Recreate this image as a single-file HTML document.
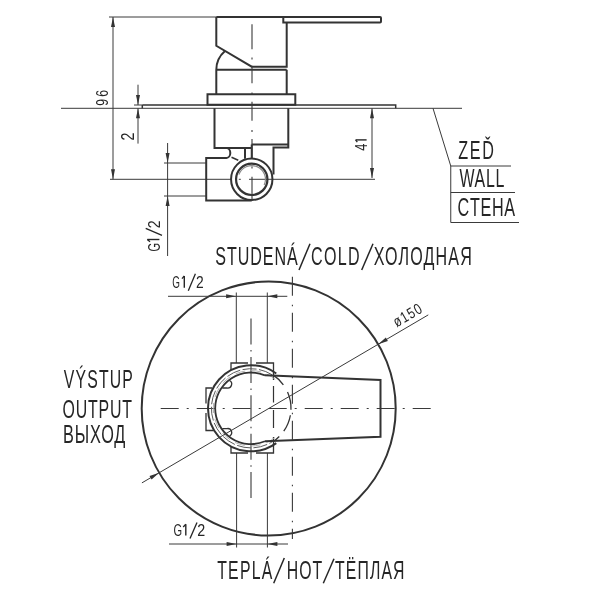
<!DOCTYPE html>
<html><head><meta charset="utf-8"><style>
html,body{margin:0;padding:0;background:#fff;width:600px;height:600px;overflow:hidden}
svg{display:block;will-change:transform}
text{font-family:"Liberation Sans",sans-serif}
</style></head><body>
<svg width="600" height="600" viewBox="0 0 600 600">
<rect width="600" height="600" fill="#fff"/>
<path d="M109 17 H216.3" fill="none" stroke="#3a3a3a" stroke-width="1.0" />
<path d="M113 17 V179.3" fill="none" stroke="#3a3a3a" stroke-width="1.0" />
<path d="M113.00 17.00 L115.00 27.00 L111.00 27.00 Z" fill="#333333"/>
<path d="M113.00 179.30 L111.00 169.30 L115.00 169.30 Z" fill="#333333"/>
<text id="t1" transform="translate(108.10,105.70) rotate(-90) scale(0.75,1)" font-size="16.23" fill="#262626" textLength="20.82" lengthAdjust="spacing">96</text>
<path d="M61 108.3 H462" fill="none" stroke="#3a3a3a" stroke-width="1.0" />
<path d="M142.3 105 H395.7 V108.3 M142.3 105 V108.3" fill="none" stroke="#333333" stroke-width="1.5" />
<path d="M433 108.3 L450.75 166 V222.5 M450.75 166 H511 M450.75 192.5 H515 M450.75 222.5 H519" fill="none" stroke="#3a3a3a" stroke-width="1.0" />
<path d="M138 84.7 V105 M138 108.3 V143.6 M134 105 H142.3" fill="none" stroke="#3a3a3a" stroke-width="1.0" />
<path d="M138.00 105.00 L136.00 95.00 L140.00 95.00 Z" fill="#333333"/>
<path d="M138.00 108.30 L140.00 118.30 L136.00 118.30 Z" fill="#333333"/>
<text id="t2" transform="translate(134.00,140.50) rotate(-90) scale(0.8111999999999999,1)" font-size="17.75" fill="#262626" textLength="10.8" lengthAdjust="spacing">2</text>
<path d="M167.6 143 V256 M164 163 H206 M164 196 H206 M110 179.3 H231 M238.8 179.3 H240.8 M249 179.3 H375" fill="none" stroke="#3a3a3a" stroke-width="1.0" />
<path d="M167.60 163.00 L165.60 153.00 L169.60 153.00 Z" fill="#333333"/>
<path d="M167.60 196.00 L169.60 206.00 L165.60 206.00 Z" fill="#333333"/>
<text id="t3" transform="translate(159.60,251.60) rotate(-90) scale(0.64,1)" font-size="17.39" fill="#262626" textLength="13.15" lengthAdjust="spacing">G</text>
<text id="t4" transform="translate(159.60,228.25) rotate(-90) scale(0.8053043478260897,1)" font-size="17.39" fill="#262626" textLength="10.74" lengthAdjust="spacing">2</text>
<path d="M150 241.8 L147.3 239.5" stroke="#262626" stroke-width="1.3" fill="none"/>
<path d="M147.3 239.5 L159.4 239.5" stroke="#262626" stroke-width="1.4" fill="none"/>
<path d="M145.7 228.3 L162 235.3" stroke="#262626" stroke-width="1.3" fill="none"/>
<path d="M372 108.3 V178" fill="none" stroke="#3a3a3a" stroke-width="1.0" />
<path d="M372.00 108.30 L374.00 118.30 L370.00 118.30 Z" fill="#333333"/>
<path d="M372.00 178.00 L370.00 168.00 L374.00 168.00 Z" fill="#333333"/>
<text id="t5" transform="translate(366.50,150.75) rotate(-90) scale(0.8125,1)" font-size="15.65" fill="#262626" textLength="10.23" lengthAdjust="spacing">4</text>
<path d="M357.3 142.2 L355.6 139.9" stroke="#262626" stroke-width="1.3" fill="none"/>
<path d="M355.6 139.9 L366.6 139.9" stroke="#262626" stroke-width="1.4" fill="none"/>
<path d="M216.3 17 H283.3 M216.3 17 V45.8 L251.7 66.7 H286.7 V22.5 M283.3 17 H380 Q381 17 381 18 V21.5 Q381 22.5 380 22.5 H283.3 Z M216.3 69.7 H286.7 M216.3 69.7 A24.9 24.9 0 0 1 225 50.9 M216.3 69.7 V94.2 M286.7 69.7 V94.2" fill="none" stroke="#333333" stroke-width="2.0" />
<path d="M207.5 94.2 H295.3 V104.7 H207.5 Z" fill="none" stroke="#333333" stroke-width="2.0" />
<path d="M214.5 108.3 V148.1 H226.5 A3.8 4.9 0 0 1 226.5 157.9 H206.2 V200.5 H251.75 M288.3 108.3 V147.5 H273.5 V174.5 M251.75 144.5 H288.3 M226.5 148.1 H251.75 M245 148.1 V158.75 M251.75 144.5 V158.75" fill="none" stroke="#333333" stroke-width="2.0" />
<path d="M231.5 157.25 L238.25 160.25" fill="none" stroke="#333333" stroke-width="1.5" />
<circle cx="251.75" cy="179.3" r="20.7" fill="none" stroke="#333333" stroke-width="2"/>
<circle cx="251.75" cy="179.3" r="15.7" fill="none" stroke="#333333" stroke-width="2.2"/>
<path d="M238.88 174.61 A13.7 13.7 0 1 1 264.17 185.09" fill="none" stroke="#8a8a8a" stroke-width="1.2"/>
<path d="M252 24.2 V49.2 M252 57.5 V59.5 M252 65.8 V83.3 M252 92.5 V94.5 M252 101.7 V120.8 M252 130 V132 M252 139 V158.3 M252 166.5 V168.5 M252 176.7 V201" fill="none" stroke="#3a3a3a" stroke-width="1.1" />
<text id="t6" transform="translate(458.25,159.30) scale(0.61,1)" font-size="26.52" fill="#262626" textLength="58.55" lengthAdjust="spacing">ZEĎ</text>
<text id="t7" transform="translate(459.40,187.10) scale(0.61,1)" font-size="26.09" fill="#262626" textLength="73.67" lengthAdjust="spacing">WALL</text>
<text id="t8" transform="translate(457.55,216.20) scale(0.61,1)" font-size="26.52" fill="#262626" textLength="94.29" lengthAdjust="spacing">CTEHA</text>
<text id="t9" transform="translate(215.25,264.70) scale(0.61,1)" font-size="26.38" fill="#262626" textLength="135.26" lengthAdjust="spacing">STUDENÁ</text>
<text id="t10" transform="translate(310.95,264.70) scale(0.61,1)" font-size="26.38" fill="#262626" textLength="79.85" lengthAdjust="spacing">COLD</text>
<text id="t11" transform="translate(373.80,264.70) scale(0.61,1)" font-size="26.38" fill="#262626" textLength="160.67" lengthAdjust="spacing">ХОЛОДНАЯ</text>
<path d="M299 270 L310 243.7" stroke="#262626" stroke-width="1.5" fill="none"/>
<path d="M361.7 270 L373 243.7" stroke="#262626" stroke-width="1.5" fill="none"/>
<text id="t12" transform="translate(217.25,578.50) scale(0.61,1)" font-size="25.94" fill="#262626" textLength="90.14" lengthAdjust="spacing">TEPLÁ</text>
<text id="t13" transform="translate(286.65,578.50) scale(0.61,1)" font-size="25.94" fill="#262626" textLength="58.33" lengthAdjust="spacing">HOT</text>
<text id="t14" transform="translate(335.05,578.50) scale(0.61,1)" font-size="25.94" fill="#262626" textLength="113.91" lengthAdjust="spacing">ТЁПЛАЯ</text>
<path d="M273.7 583.3 L284.3 558" stroke="#262626" stroke-width="1.5" fill="none"/>
<path d="M323.3 583.3 L334 558.7" stroke="#262626" stroke-width="1.5" fill="none"/>
<text id="t15" transform="translate(63.70,387.50) scale(0.61,1)" font-size="25.94" fill="#262626" textLength="113.41" lengthAdjust="spacing">VÝSTUP</text>
<text id="t16" transform="translate(62.55,417.90) scale(0.61,1)" font-size="26.09" fill="#262626" textLength="113.92" lengthAdjust="spacing">OUTPUT</text>
<text id="t17" transform="translate(63.05,442.80) scale(0.61,1)" font-size="26.67" fill="#262626" textLength="102.17" lengthAdjust="spacing">ВЫХОД</text>
<circle cx="268.7" cy="408.5" r="127" fill="none" stroke="#333333" stroke-width="2"/>
<path d="M168 296.3 H287.3 M236.3 292.5 V363 M267.3 292.5 V363" fill="none" stroke="#3a3a3a" stroke-width="1.0" />
<path d="M236.10 296.30 L226.10 298.30 L226.10 294.30 Z" fill="#333333"/>
<path d="M267.30 296.30 L277.30 294.30 L277.30 298.30 Z" fill="#333333"/>
<text id="t18" transform="translate(172.20,287.60) scale(0.5826206896551723,1)" font-size="16.96" fill="#262626" textLength="12.01" lengthAdjust="spacing">G</text>
<text id="t19" transform="translate(195.95,287.50) scale(0.8153939393939438,1)" font-size="16.96" fill="#262626" textLength="10.55" lengthAdjust="spacing">2</text>
<path d="M182 278.7 L184.3 276" stroke="#262626" stroke-width="1.3" fill="none"/>
<path d="M184.3 276 L184.3 287.7" stroke="#262626" stroke-width="1.4" fill="none"/>
<path d="M188.3 290.8 L195.4 273.75" stroke="#262626" stroke-width="1.3" fill="none"/>
<path d="M169 544 H288 M236.6 453 V547.5 M267.4 453 V547.5" fill="none" stroke="#3a3a3a" stroke-width="1.0" />
<path d="M236.60 544.00 L226.60 546.00 L226.60 542.00 Z" fill="#333333"/>
<path d="M267.40 544.00 L277.40 542.00 L277.40 546.00 Z" fill="#333333"/>
<text id="t20" transform="translate(173.45,535.60) scale(0.6826666666666666,1)" font-size="16.23" fill="#262626" textLength="12.87" lengthAdjust="spacing">G</text>
<text id="t21" transform="translate(197.35,535.50) scale(0.8799999999999991,1)" font-size="16.23" fill="#262626" textLength="11.05" lengthAdjust="spacing">2</text>
<path d="M183.2 527 L185.8 524.3" stroke="#262626" stroke-width="1.3" fill="none"/>
<path d="M185.8 524.3 L185.8 535.5" stroke="#262626" stroke-width="1.4" fill="none"/>
<path d="M190 538.6 L197 522.5" stroke="#262626" stroke-width="1.3" fill="none"/>
<path d="M292.4 276.7 V539" fill="none" stroke="#3a3a3a" stroke-width="1.1" stroke-dasharray="19 9 1.5 6.5"/>
<path d="M251 318.5 V498" fill="none" stroke="#3a3a3a" stroke-width="1.1" stroke-dasharray="26 5.5 1.5 5.4"/>
<path d="M160.7 408.5 H430.7" fill="none" stroke="#3a3a3a" stroke-width="1.1" stroke-dasharray="18 8 2 8"/>
<path d="M231 370 V363 H248 M256 363 H273.5 V380 M212 388 H206 V403.5 M206 413 V430.5 H213.5 M231 446 V453 H248 M256 453 H273.5 V437" fill="none" stroke="#333333" stroke-width="1.3" />
<path d="M276.27 373.51 A43 43 0 1 0 276.27 443.09" fill="none" stroke="#333333" stroke-width="2" />
<path d="M264.99 375.35 A35.8 35.8 0 1 0 264.99 441.25" fill="none" stroke="#333333" stroke-width="1.8" />
<path d="M271.98 374.72 A39.6 39.6 0 1 0 271.98 441.88" fill="none" stroke="#5a5a5a" stroke-width="1.0" stroke-dasharray="14 2.5"/>
<path d="M275.23 379.42 A37.7 37.7 0 1 0 275.23 437.18" fill="none" stroke="#aaaaaa" stroke-width="0.9" stroke-dasharray="10 6"/>
<path d="M273.37 375.14 A40 40 0 0 1 283.36 384.79" fill="none" stroke="#333333" stroke-width="1.3" />
<path d="M287.54 392.03 A40 40 0 0 1 290.98 409.70" fill="none" stroke="#333333" stroke-width="1.3" />
<path d="M290.39 415.25 A40 40 0 0 1 283.77 431.24" fill="none" stroke="#333333" stroke-width="1.3" />
<path d="M279.28 436.58 A40 40 0 0 1 273.37 441.46" fill="none" stroke="#333333" stroke-width="1.3" />
<path d="M222.3 388 H227 A4 4 0 0 0 229.5 380.5" fill="none" stroke="#333333" stroke-width="1.3" />
<path d="M222.3 428.6 H227 A4 4 0 0 1 229.5 436.1" fill="none" stroke="#333333" stroke-width="1.3" />
<path d="M273.5 386 V402.5 M273.5 410 V428" fill="none" stroke="#333333" stroke-width="1.2" />
<path d="M265 375.3 L380.5 379.9 V436.7 L265 441.3" fill="none" stroke="#333333" stroke-width="2.0" />
<path d="M141.91 482.89 L428.27 314.88" fill="none" stroke="#3a3a3a" stroke-width="1.0" />
<path d="M159.16 472.77 L151.55 479.55 L149.52 476.10 Z" fill="#333333"/>
<path d="M378.24 344.23 L385.85 337.45 L387.88 340.90 Z" fill="#333333"/>
<text id="t22" transform="translate(396.66,327.42) rotate(-30.4) scale(0.78,1)" font-size="15.36" fill="#262626" textLength="39.36" lengthAdjust="spacing">ø150</text>
</svg>
</body></html>
